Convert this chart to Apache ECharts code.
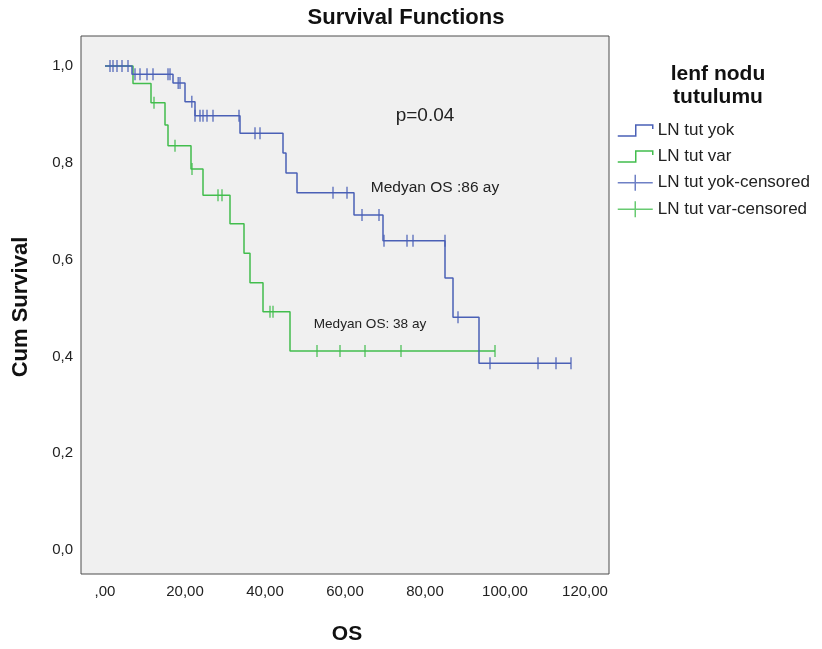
<!DOCTYPE html>
<html>
<head>
<meta charset="utf-8">
<script src="https://cdn.jsdelivr.net/npm/echarts@6/dist/echarts.min.js"></script>
<style>
html,body{margin:0;padding:0;background:#fff;}
#chart{width:822px;height:649px;}
</style>
</head>
<body>
<div id="chart"></div>
<script>
// ---- data ----
const xTicks = [0, 20, 40, 60, 80, 100, 120];
const yTicks = [0, 0.2, 0.4, 0.6, 0.8, 1.0];

// LN tut yok: event times and survival after each step
const yokTimes = [0, 6.75, 17, 20, 22.5, 33.75, 44.5, 45.25, 48, 62.25, 69.5, 85, 87, 93.5, 116.5];
const yokSurv  = [1.0, 0.983, 0.965, 0.926, 0.897, 0.861, 0.820, 0.779, 0.738, 0.692, 0.639, 0.562, 0.481, 0.386, 0.386];
// LN tut yok censored marks
const yokCensT = [1.25, 2, 3, 4.25, 5.75, 7.5, 8.75, 10.5, 12, 15.75, 16.25, 18.3, 18.75, 21.7, 22.5, 23.75, 24.5, 25.5, 27, 33.5, 37.5, 38.75, 57, 60.5, 64.25, 68.5, 69.75, 75.5, 77, 85, 88.25, 96.25, 108.25, 112.75, 116.5];
const yokCensS = [1, 1, 1, 1, 1, 0.983, 0.983, 0.983, 0.983, 0.983, 0.983, 0.965, 0.965, 0.926, 0.897, 0.897, 0.897, 0.897, 0.897, 0.897, 0.861, 0.861, 0.738, 0.738, 0.692, 0.692, 0.639, 0.639, 0.639, 0.639, 0.481, 0.386, 0.386, 0.386, 0.386];

// LN tut var
const varTimes = [0, 7, 11.5, 15, 15.75, 21.5, 24.5, 31.25, 34.75, 36.25, 39.5, 46.25, 97.5];
const varSurv  = [1.0, 0.964, 0.924, 0.878, 0.835, 0.787, 0.733, 0.674, 0.613, 0.552, 0.492, 0.411, 0.411];
const varCensT = [12.25, 17.5, 21.75, 28.25, 29.25, 41.25, 42, 53, 58.75, 65, 74, 97.5];
const varCensS = [0.924, 0.835, 0.787, 0.733, 0.733, 0.492, 0.492, 0.411, 0.411, 0.411, 0.411, 0.411];

const names = ['LN tut yok', 'LN tut var', 'LN tut yok-censored', 'LN tut var-censored'];
const BLUE = '#4a60b6';
const GREEN = '#42bd4d';
const FONT = '"Liberation Sans", Arial, sans-serif';

const zip = (a, b) => a.map((v, i) => [v, b[i]]);

const stepIcon = 'path://M0,13 L18,13 L18,2 L35,2 L35,6';
const crossIcon = 'path://M0,8 L35,8 M17.5,0 L17.5,16';

const chart = echarts.init(document.getElementById('chart'), null, {renderer: 'canvas'});
chart.setOption({
  backgroundColor: '#ffffff',
  animation: false,
  textStyle: {fontFamily: FONT},
  grid: {
    left: 81, top: 36, right: 213, bottom: 75,
    show: true, backgroundColor: '#f0f0f0', borderColor: '#4d4d4d', borderWidth: 1
  },
  xAxis: {
    type: 'value', min: -6, max: 126,
    axisLine: {show: false}, axisTick: {show: false}, splitLine: {show: false},
    axisLabel: {
      customValues: xTicks, margin: 10, fontSize: 15, color: '#222', fontFamily: FONT,
      formatter: v => v === 0 ? ',00' : v.toFixed(2).replace('.', ',')
    }
  },
  yAxis: {
    type: 'value', min: -0.0496, max: 1.062,
    axisLine: {show: false}, axisTick: {show: false}, splitLine: {show: false},
    axisLabel: {
      customValues: yTicks, margin: 8, fontSize: 15, color: '#222', fontFamily: FONT,
      formatter: v => v.toFixed(1).replace('.', ',')
    }
  },
  legend: {
    orient: 'vertical', left: 617, top: 122, padding: 0,
    itemWidth: 35, itemHeight: 16, itemGap: 9, selectedMode: false,
    textStyle: {fontSize: 17, color: '#222', fontFamily: FONT},
    data: [
      {name: names[0], icon: stepIcon, itemStyle: {color: 'rgba(0,0,0,0)', borderColor: BLUE, borderWidth: 1.5}},
      {name: names[1], icon: stepIcon, itemStyle: {color: 'rgba(0,0,0,0)', borderColor: GREEN, borderWidth: 1.5}},
      {name: names[2], icon: crossIcon, itemStyle: {color: 'rgba(0,0,0,0)', borderColor: BLUE, borderWidth: 1.5}},
      {name: names[3], icon: crossIcon, itemStyle: {color: 'rgba(0,0,0,0)', borderColor: GREEN, borderWidth: 1.5}}
    ]
  },
  graphic: [
    {type: 'text', x: 406, y: 18, style: {text: 'Survival Functions', font: 'bold 22px ' + FONT, fill: '#111', textAlign: 'center', textVerticalAlign: 'middle'}},
    {type: 'text', x: 718, y: 86, style: {text: 'lenf nodu\ntutulumu', font: 'bold 21px ' + FONT, fill: '#111', textAlign: 'center', textVerticalAlign: 'middle', lineHeight: 23}},
    {type: 'text', x: 21, y: 307, rotation: Math.PI / 2, style: {text: 'Cum Survival', font: 'bold 22px ' + FONT, fill: '#111', textAlign: 'center', textVerticalAlign: 'middle'}},
    {type: 'text', x: 347, y: 634, style: {text: 'OS', font: 'bold 21px ' + FONT, fill: '#111', textAlign: 'center', textVerticalAlign: 'middle'}},
    {type: 'text', x: 425, y: 116, style: {text: 'p=0.04', font: '19px ' + FONT, fill: '#222', textAlign: 'center', textVerticalAlign: 'middle'}},
    {type: 'text', x: 435, y: 188, style: {text: 'Medyan OS :86 ay', font: '15.5px ' + FONT, fill: '#222', textAlign: 'center', textVerticalAlign: 'middle'}},
    {type: 'text', x: 370, y: 324, style: {text: 'Medyan OS: 38 ay', font: '13.6px ' + FONT, fill: '#222', textAlign: 'center', textVerticalAlign: 'middle'}}
  ],
  series: [
    {
      name: names[1], type: 'line', step: 'end', showSymbol: false, symbol: 'none',
      data: zip(varTimes, varSurv), color: GREEN,
      lineStyle: {color: GREEN, width: 1.5}, z: 2
    },
    {
      name: names[3], type: 'scatter', symbol: 'rect', symbolSize: [1.5, 12],
      data: zip(varCensT, varCensS), itemStyle: {color: GREEN}, z: 3
    },
    {
      name: names[0], type: 'line', step: 'end', showSymbol: false, symbol: 'none',
      data: zip(yokTimes, yokSurv), color: BLUE,
      lineStyle: {color: BLUE, width: 1.5}, z: 4
    },
    {
      name: names[2], type: 'scatter', symbol: 'rect', symbolSize: [1.5, 12],
      data: zip(yokCensT, yokCensS), itemStyle: {color: BLUE}, z: 5
    }
  ]
});
</script>
</body>
</html>
